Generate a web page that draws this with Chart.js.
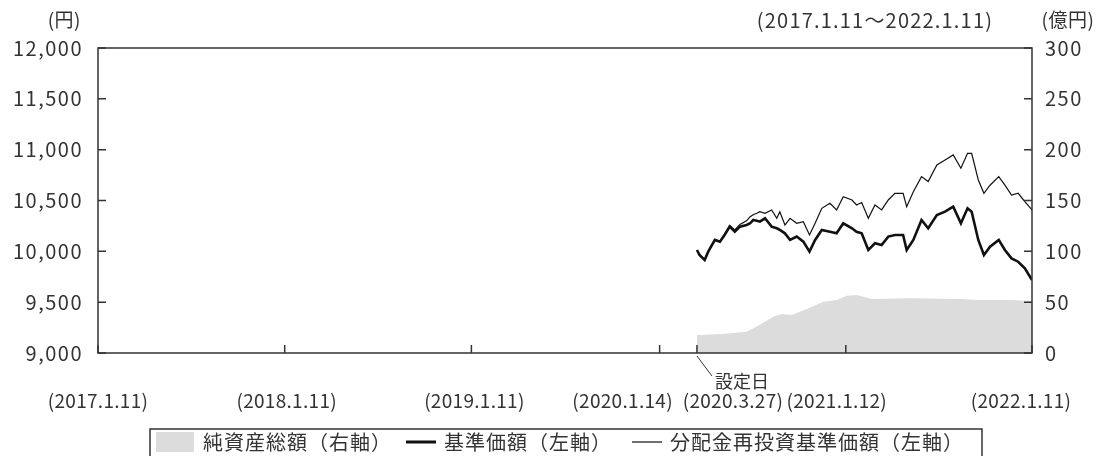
<!DOCTYPE html>
<html lang="ja">
<head>
<meta charset="UTF-8">
<title>基準価額・純資産総額の推移</title>
<script src="https://cdn.jsdelivr.net/npm/chart.js"></script>
<style>
    body { margin: 0; background: #fff; }
    #wrap { width: 1107px; height: 456px; }
</style>
</head>
<body>
<div id="wrap"><canvas id="navChart" width="1107" height="456"></canvas></div>
<script>
// x = days since 2017.1.11
const days = [1171, 1176, 1186, 1193, 1206, 1216, 1225, 1235, 1245, 1255, 1268, 1275, 1281, 1288, 1294,
    1304, 1317, 1327, 1333, 1343, 1353, 1366, 1379, 1391, 1402, 1415, 1431, 1444, 1457, 1474, 1483,
    1493, 1506, 1519, 1532, 1545, 1558, 1574, 1581, 1594, 1610, 1623, 1640, 1656, 1672, 1687, 1700,
    1708, 1721, 1732, 1744, 1761, 1773, 1786, 1799, 1812, 1826];
// 基準価額 (円)
const basePrice = [10013, 9964, 9915, 9997, 10112, 10095, 10161, 10243, 10193, 10243, 10259, 10276, 10308, 10300, 10292,
    10325, 10243, 10227, 10210, 10177, 10112, 10145, 10095, 9997, 10112, 10210, 10193, 10177, 10276, 10227, 10193,
    10177, 10013, 10079, 10062, 10145, 10161, 10161, 10013, 10112, 10308, 10227, 10357, 10390, 10439, 10276, 10423,
    10390, 10112, 9964, 10046, 10112, 10013, 9931, 9898, 9833, 9718];
// 分配金再投資基準価額 (円)
const reinvPrice = [10013, 9964, 9915, 9997, 10112, 10100, 10170, 10255, 10210, 10265, 10300, 10341, 10360, 10374, 10390,
    10374, 10407, 10325, 10390, 10259, 10325, 10276, 10292, 10161, 10276, 10423, 10472, 10407, 10538, 10505, 10456,
    10480, 10325, 10456, 10407, 10505, 10571, 10571, 10439, 10587, 10735, 10686, 10850, 10899, 10948, 10817, 10964,
    10964, 10702, 10571, 10650, 10735, 10652, 10554, 10571, 10489, 10407];
// 純資産総額 (億円)
const assetDays = [1171, 1222, 1268, 1288, 1320, 1337, 1356, 1386, 1418, 1444, 1464, 1483, 1496, 1513, 1588, 1685, 1724, 1783, 1826];
const netAssets = [17.7, 18.7, 21, 26, 35.7, 38.4, 37.4, 43.3, 50.5, 52.1, 56.4, 57, 55.4, 53.1, 53.8, 53.1, 52.1, 52.1, 51.1];

const xTickDays = [0, 365, 730, 1098, 1171, 1462, 1826];
const xTickLabels = ['(2017.1.11)', '(2018.1.11)', '(2019.1.11)', '(2020.1.14)', '(2020.3.27)', '(2021.1.12)', '(2022.1.11)'];
const leftTicks = [9000, 9500, 10000, 10500, 11000, 11500, 12000];
const rightTicks = [0, 50, 100, 150, 200, 250, 300];

const FONT = '"Noto Sans CJK JP", "Noto Sans", sans-serif';
const TEXT = '#333';
const labelShift = [0, 2, 3, -37, 36, -9, -11];

const pts = (xs, ys) => xs.map((x, i) => ({ x: x, y: ys[i] }));

const spacingPlugin = {
    id: 'spacing',
    beforeDraw(chart) { chart.ctx.letterSpacing = '1.5px'; }
};

const framePlugin = {
    id: 'frame',
    afterDatasetsDraw(chart) {
        const { ctx, chartArea: a, scales } = chart;
        ctx.save();
        ctx.strokeStyle = '#333';
        ctx.lineWidth = 1.5;
        ctx.strokeRect(a.left, a.top, a.right - a.left, a.bottom - a.top);
        ctx.beginPath();
        leftTicks.forEach(v => {
            const y = scales.y.getPixelForValue(v);
            ctx.moveTo(a.left, y); ctx.lineTo(a.left + 8, y);
        });
        rightTicks.forEach(v => {
            const y = scales.y2.getPixelForValue(v);
            ctx.moveTo(a.right, y); ctx.lineTo(a.right - 8, y);
        });
        xTickDays.forEach(v => {
            const x = scales.x.getPixelForValue(v);
            ctx.moveTo(x, a.bottom); ctx.lineTo(x, a.bottom - 8);
        });
        ctx.stroke();

        // 設定日
        const sx = scales.x.getPixelForValue(1171);
        ctx.lineWidth = 1;
        ctx.beginPath();
        ctx.moveTo(sx, a.bottom + 3);
        ctx.lineTo(sx + 15, a.bottom + 23);
        ctx.stroke();
        ctx.fillStyle = TEXT;
        ctx.letterSpacing = '0px';
        ctx.font = '18px ' + FONT;
        ctx.textBaseline = 'middle';
        ctx.textAlign = 'left';
        ctx.fillText('設定日', sx + 18, a.bottom + 28);

        // x labels
        ctx.letterSpacing = '0.3px';
        ctx.font = '19px ' + FONT;
        ctx.textAlign = 'center';
        xTickDays.forEach((v, i) => {
            const x = scales.x.getPixelForValue(v) + labelShift[i];
            ctx.fillText(xTickLabels[i], x, a.bottom + 48);
        });

        // unit labels and period
        ctx.letterSpacing = '0.5px';
        ctx.font = '19px ' + FONT;
        ctx.textAlign = 'right';
        ctx.fillText('(円)', 81, 20);
        ctx.textAlign = 'center';
        ctx.fillText('(億円)', 1068, 20);
        ctx.letterSpacing = '1.2px';
        ctx.font = '20px ' + FONT;
        ctx.fillText('(2017.1.11～2022.1.11)', 875, 20);

        // legend
        ctx.lineWidth = 1.5;
        ctx.strokeRect(150, 429, 832, 40);
        ctx.fillStyle = '#dcdcdc';
        ctx.fillRect(156, 432, 38, 20);
        ctx.fillStyle = TEXT;
        ctx.letterSpacing = '1px';
        ctx.font = '20px ' + FONT;
        ctx.textAlign = 'left';
        ctx.textBaseline = 'middle';
        ctx.fillText('純資産総額（右軸）', 203, 442);
        ctx.strokeStyle = '#111';
        ctx.lineWidth = 3;
        ctx.beginPath(); ctx.moveTo(406, 442); ctx.lineTo(436, 442); ctx.stroke();
        ctx.fillText('基準価額（左軸）', 444, 442);
        ctx.lineWidth = 1.2;
        ctx.beginPath(); ctx.moveTo(632, 442); ctx.lineTo(662, 442); ctx.stroke();
        ctx.fillText('分配金再投資基準価額（左軸）', 670, 442);
        ctx.restore();
    }
};

const ctx = document.getElementById('navChart').getContext('2d');
new Chart(ctx, {
    type: 'line',
    data: {
        datasets: [
            {
                label: '基準価額（左軸）',
                data: pts(days, basePrice),
                yAxisID: 'y',
                borderColor: '#111',
                borderWidth: 2.6,
                pointRadius: 0,
                order: 0
            },
            {
                label: '分配金再投資基準価額（左軸）',
                data: pts(days, reinvPrice),
                yAxisID: 'y',
                borderColor: '#111',
                borderWidth: 1.2,
                pointRadius: 0,
                order: 1
            },
            {
                label: '純資産総額（右軸）',
                data: pts(assetDays, netAssets),
                yAxisID: 'y2',
                borderWidth: 0,
                borderColor: 'rgba(0,0,0,0)',
                backgroundColor: '#dcdcdc',
                fill: 'origin',
                pointRadius: 0,
                order: 2
            }
        ]
    },
    options: {
        responsive: false,
        animation: false,
        layout: { padding: { top: 48, left: 0, right: 0, bottom: 0 } },
        plugins: { legend: { display: false }, tooltip: { enabled: false } },
        scales: {
            x: {
                type: 'linear',
                min: 0,
                max: 1826,
                afterBuildTicks: s => { s.ticks = xTickDays.map(v => ({ value: v })); },
                ticks: { display: false },
                grid: { display: false },
                border: { display: false },
                afterFit: s => { s.height = 103; }
            },
            y: {
                position: 'left',
                min: 9000,
                max: 12000,
                afterBuildTicks: s => { s.ticks = leftTicks.map(v => ({ value: v })); },
                ticks: {
                    callback: v => v.toLocaleString('en-US'),
                    font: { family: FONT, size: 20 },
                    color: TEXT,
                    padding: 15
                },
                grid: { display: false, drawTicks: false },
                border: { display: false },
                afterFit: s => { s.width = 98; }
            },
            y2: {
                position: 'right',
                min: 0,
                max: 300,
                afterBuildTicks: s => { s.ticks = rightTicks.map(v => ({ value: v })); },
                ticks: {
                    font: { family: FONT, size: 20 },
                    color: TEXT,
                    padding: 13
                },
                grid: { display: false, drawTicks: false },
                border: { display: false },
                afterFit: s => { s.width = 75; }
            }
        }
    },
    plugins: [spacingPlugin, framePlugin]
});
</script>
</body>
</html>
